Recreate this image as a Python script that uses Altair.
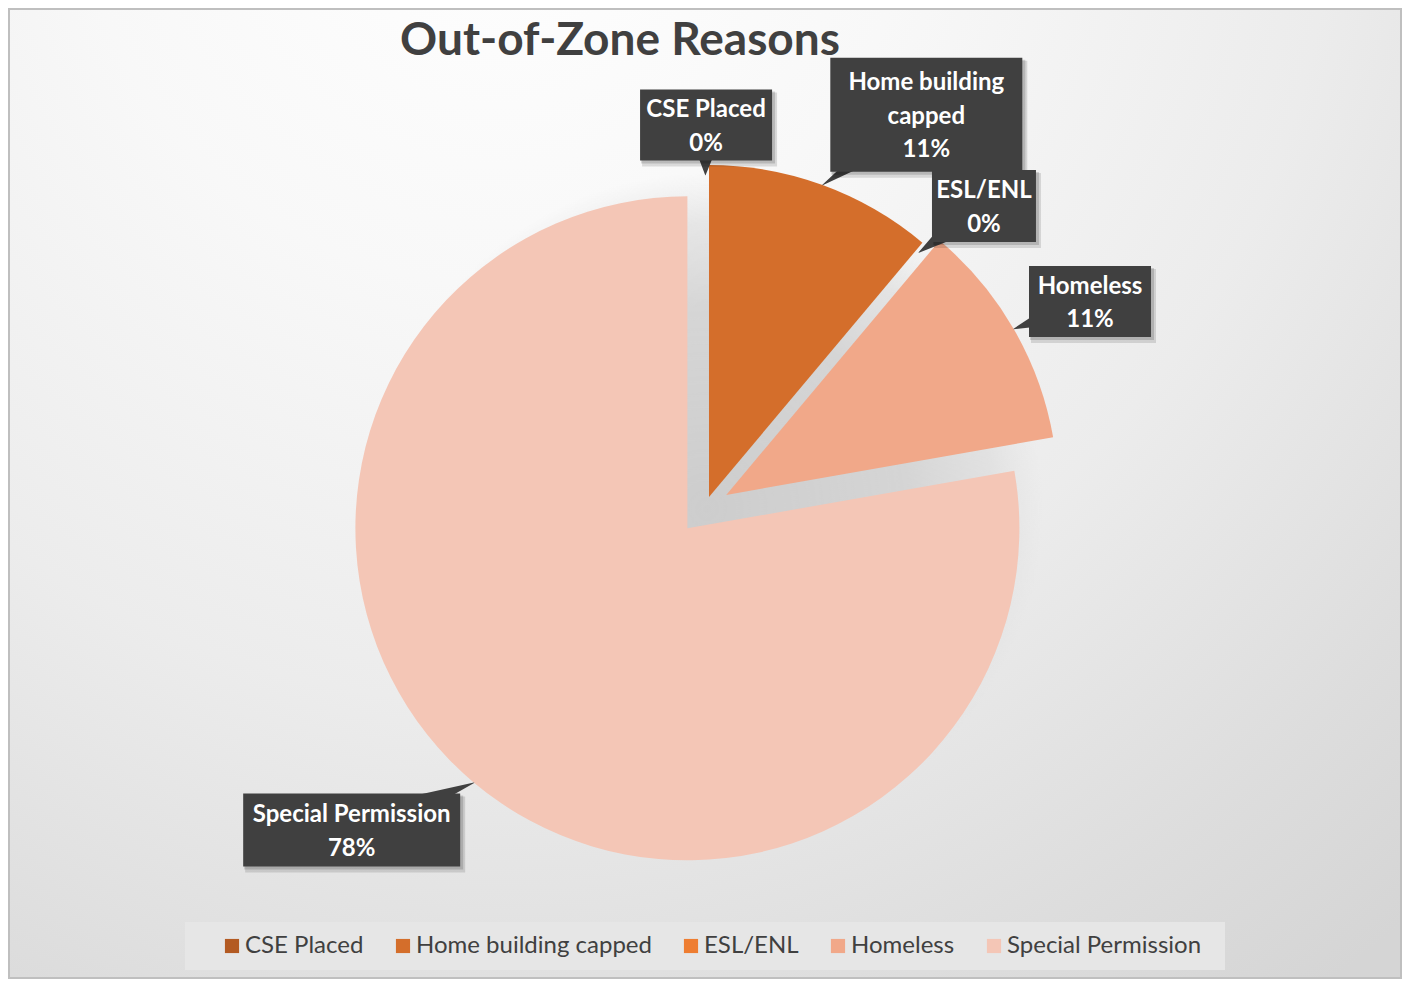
import math
import altair as alt
import pandas as pd

# ---- data ----
categories = ["CSE Placed", "Home building capped", "ESL/ENL", "Homeless", "Special Permission"]
counts = [0, 1, 0, 1, 7]
label_names = ["CSE Placed", "Home building\ncapped", "ESL/ENL", "Homeless", "Special Permission"]
TITLE = "Out-of-Zone Reasons"

# ---- style / layout ----
colors = ["#B35A22", "#D46E2B", "#EE7D31", "#F1A889", "#F4C6B6"]
explode = [0, 10.5, 0, 24, 28]            # px each slice is pulled out
label_angle = [0.1, 29.4, 42.8, 61.9, 227.6]  # deg, callout position
label_radius = [382, 450, 410, 436, 479]
box_w = [132, 192, 104, 122, 217]
box_h = [71, 114, 72, 71, 73]

W, H = 1394, 971
CX, CY, R = 697.4, 498.9, 332
FONT = "Lato"
DARK = "#404040"
LINE_H = 33.5

df = pd.DataFrame({
    "idx": list(range(len(categories))),
    "cat": categories,
    "value": counts,
    "name": label_names,
    "explode": explode,
    "lab_ang": label_angle,
    "lab_r": label_radius,
    "bw": box_w,
    "bh": box_h,
})

base = (
    alt.Chart(df)
    .transform_joinaggregate(total="sum(value)")
    .transform_window(cum="sum(value)", sort=[alt.SortField("idx")], frame=[None, 0])
    .transform_calculate(
        start="2*PI*(datum.cum - datum.value)/datum.total",
        end="2*PI*datum.cum/datum.total",
        mid="(datum.start + datum.end)/2",
        px=f"{CX} + datum.explode*sin(datum.mid)",
        py=f"{CY} - datum.explode*cos(datum.mid)",
        tipx=f"datum.px + {R}*sin(datum.mid)",
        tipy=f"datum.py - {R}*cos(datum.mid)",
        lx=f"{CX} + datum.lab_r*sin(datum.lab_ang*PI/180)",
        ly=f"{CY} - datum.lab_r*cos(datum.lab_ang*PI/180)",
        bx1="datum.lx - datum.bw/2",
        bx2="datum.lx + datum.bw/2",
        by1="datum.ly - datum.bh/2",
        by2="datum.ly + datum.bh/2",
        label="datum.name + '\\n' + format(datum.value/datum.total, '.0%')",
        nlines="length(split(datum.label, '\\n'))",
        tyt=f"datum.ly - (datum.nlines - 1)*{LINE_H}/2 + 2",
    )
)

X = lambda f: alt.X(f"{f}:Q", scale=None)
Y = lambda f: alt.Y(f"{f}:Q", scale=None)

one = pd.DataFrame({"a": [0]})

background = alt.Chart(one).mark_rect(
    fill=alt.RadialGradient(
        gradient="radial",
        stops=[
            alt.GradientStop(offset=0, color="#ffffff"),
            alt.GradientStop(offset=0.3, color="#f8f8f8"),
            alt.GradientStop(offset=0.6, color="#ececec"),
            alt.GradientStop(offset=0.85, color="#dddddd"),
            alt.GradientStop(offset=1, color="#d5d5d5"),
        ],
        x1=0.35, y1=0.05, r1=0, x2=0.35, y2=0.05, r2=1.0,
    ),
    stroke="#bfbfbf",
    strokeWidth=2,
).encode(x=alt.value(1), x2=alt.value(W - 1), y=alt.value(1), y2=alt.value(H - 1))

legend_bg = alt.Chart(one).mark_rect(color="#e6e6e6").encode(
    x=alt.value(177), x2=alt.value(1217), y=alt.value(914), y2=alt.value(962)
)

# soft shadow under the pie: darker at the centre, fading out at the rim
pie_shadow = alt.Chart(one).mark_arc(
    radius=R + 4,
    theta=0,
    theta2=2 * math.pi,
    fill=alt.RadialGradient(
        gradient="radial",
        stops=[
            alt.GradientStop(offset=0, color="rgba(205,205,205,1)"),
            alt.GradientStop(offset=0.6, color="rgba(210,210,210,0.9)"),
            alt.GradientStop(offset=0.85, color="rgba(215,215,215,0.55)"),
            alt.GradientStop(offset=1, color="rgba(220,220,220,0)"),
        ],
        x1=0.5, y1=0.5, r1=0, x2=0.5, y2=0.5, r2=0.5,
    ),
).encode(x=alt.value(CX + 2), y=alt.value(CY + 2))

slices = base.mark_arc(radius=R).encode(
    theta=alt.Theta("start:Q", scale=None, stack=None),
    theta2="end:Q",
    x=X("px"),
    y=Y("py"),
    color=alt.Color(
        "cat:N",
        scale=alt.Scale(domain=categories, range=colors),
        legend=alt.Legend(
            title=None, orient="none", legendX=212, legendY=926,
            direction="horizontal", columns=5, symbolType="square",
            symbolSize=200, symbolStrokeWidth=0, labelFont=FONT,
            labelFontSize=24, labelColor=DARK, labelOffset=1,
            columnPadding=27, padding=0, labelLimit=0,
        ),
    ),
)

pointers = (
    base.transform_calculate(pts="[0, 1]")
    .transform_flatten(["pts"])
    .transform_calculate(
        tx="datum.pts == 0 ? datum.lx : datum.tipx",
        ty="datum.pts == 0 ? datum.ly : datum.tipy",
        ts="datum.pts == 0 ? 40 : 0.5",
    )
    .mark_trail(color=DARK)
    .encode(
        x=X("tx"), y=Y("ty"),
        size=alt.Size("ts:Q", scale=None, legend=None),
        detail="cat:N",
        order=alt.Order("pts:Q"),
    )
)

box_shadow1 = base.transform_calculate(
    sx1="datum.bx1 + 2", sx2="datum.bx2 + 5", sy1="datum.by1 + 3", sy2="datum.by2 + 6"
).mark_rect(color="#000000", opacity=0.12).encode(
    x=X("sx1"), x2="sx2:Q", y=Y("sy1"), y2="sy2:Q"
)
box_shadow2 = base.transform_calculate(
    sx1="datum.bx1 + 1", sx2="datum.bx2 + 3", sy1="datum.by1 + 2", sy2="datum.by2 + 3"
).mark_rect(color="#000000", opacity=0.15).encode(
    x=X("sx1"), x2="sx2:Q", y=Y("sy1"), y2="sy2:Q"
)

boxes = base.mark_rect(color="#404040").encode(
    x=X("bx1"), x2="bx2:Q", y=Y("by1"), y2="by2:Q"
)

texts = base.mark_text(
    font=FONT, fontWeight="bold", fontSize=24, color="white",
    lineBreak="\n", lineHeight=LINE_H, align="center", baseline="middle",
).encode(x=X("lx"), y=Y("tyt"), text="label:N")

title = alt.Chart(pd.DataFrame({"t": [TITLE]})).mark_text(
    font=FONT, fontWeight="bold", fontSize=46, color=DARK,
    align="center", baseline="middle",
).encode(x=alt.value(612), y=alt.value(33), text="t:N")

chart = (
    alt.layer(
        background, legend_bg, pie_shadow, slices,
        pointers, box_shadow1, box_shadow2, boxes, texts, title,
    )
    .properties(
        width=W, height=H, padding=0,
        autosize=alt.AutoSizeParams(type="fit", contains="padding"),
        background="white",
    )
    .configure_view(strokeWidth=0)
)

chart.save("out.html", embed_options={"renderer": "svg", "actions": False})
